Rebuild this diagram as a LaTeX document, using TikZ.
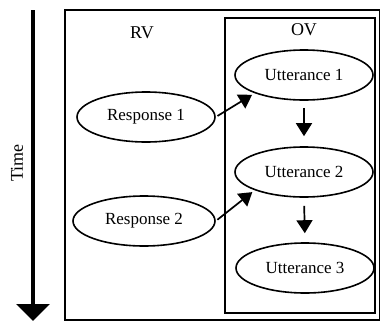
\documentclass[tikz,border=0pt]{standalone}
\usepackage{fontspec}
\setmainfont{Liberation Serif}
\usetikzlibrary{shapes.geometric,arrows.meta}
\begin{document}
\begin{tikzpicture}[x=1pt,y=-1pt,
  frame/.style={draw,line width=1.8pt},
  bubble/.style={draw,ellipse,line width=1.6pt,minimum width=138pt,minimum height=50pt,inner sep=0pt,
    font=\fontsize{17}{20}\selectfont},
  lbl/.style={font=\fontsize{18}{20}\selectfont},
  arr/.style={line width=1.7pt,-{Triangle[length=13pt,width=16pt]}}]
\useasboundingbox (0,0) rectangle (381,322);
% frames
\draw[frame] (65,10) rectangle (379.5,320);
\draw[frame] (225,18) rectangle (375,313);
% time axis
\coordinate (t0) at (33,10);
\coordinate (t1) at (33,321);
\draw[line width=4pt,-{Triangle[length=17pt,width=33pt]}] (t0) -- (t1);
\node[lbl,rotate=90] (time) at (17,163) {Time};
% headings
\node[lbl] (rv) at (142,33) {RV};
\node[lbl] (ov) at (304,30) {OV};
% events
\node[bubble] (u1) at (304,75) {Utterance 1};
\node[bubble] (u2) at (304,172) {Utterance 2};
\node[bubble] (u3) at (305,268) {Utterance 3};
\node[bubble] (r1) at (146,117) {Response 1};
\node[bubble,minimum width=142pt] (r2) at (144,221) {Response 2};
% links
\draw[arr,shorten <=2pt,shorten >=3pt] (r1.east) -- (u1.south west);
\draw[arr,shorten <=2pt,shorten >=3pt] (r2.east) -- (u2.south west);
\draw[arr,shorten <=7pt,shorten >=10pt] (u1.south) -- (u2.north);
\draw[arr,shorten <=8pt,shorten >=9pt] (u2.south) -- (u3.north);
\end{tikzpicture}
\end{document}
